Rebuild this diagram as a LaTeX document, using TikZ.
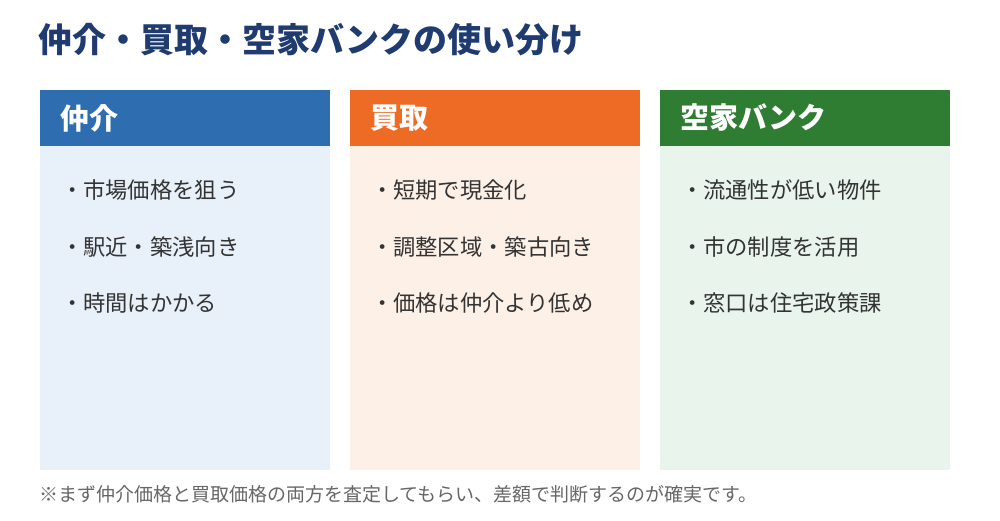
\documentclass[tikz,border=0pt]{standalone}
\usepackage{fontspec}
\setmainfont{Noto Sans CJK JP}
\usetikzlibrary{positioning}
\definecolor{cTitle}{HTML}{1F3B70}
\definecolor{cText}{HTML}{333333}
\definecolor{cNote}{HTML}{666666}
\definecolor{cBlueHead}{HTML}{2E6DB0}
\definecolor{cBlueBody}{HTML}{E8F0FA}
\definecolor{cOrangeHead}{HTML}{EE6B26}
\definecolor{cOrangeBody}{HTML}{FDF0E7}
\definecolor{cGreenHead}{HTML}{2E7D32}
\definecolor{cGreenBody}{HTML}{E9F5EC}

\begin{document}
\begin{tikzpicture}[
  x=1pt, y=-1pt,
  every node/.style={inner sep=0pt, outer sep=0pt},
  head/.style={anchor=north west, minimum width=290pt, minimum height=56pt},
  panel/.style={anchor=north west, minimum width=290pt, minimum height=324pt},
  headtext/.style={anchor=west, text=white, font=\fontsize{29}{33}\selectfont\bfseries},
  item/.style={anchor=west, text=cText, font=\fontsize{22.3}{26}\selectfont},
]

\fill[white] (0,0) rectangle (1000,520);
\node[anchor=west, text=cTitle, font=\fontsize{34}{38}\selectfont\bfseries] (title) at (38,40) {仲介・買取・空家バンクの使い分け};

% 仲介
\node[panel, fill=cBlueBody] (bodyA) at (40,146) {};
\node[head, fill=cBlueHead] (headA) at (40,90) {};
\node[headtext] (nameA) at ([xshift=20pt]headA.west) {仲介};
\node[item] (a1) at (61,190) {・市場価格を狙う};
\node[item] (a2) at (61,247) {・駅近・築浅向き};
\node[item] (a3) at (61,303) {・時間はかかる};

% 買取
\node[panel, fill=cOrangeBody] (bodyB) at (350,146) {};
\node[head, fill=cOrangeHead] (headB) at (350,90) {};
\node[headtext] (nameB) at ([xshift=20pt]headB.west) {買取};
\node[item] (b1) at (371,190) {・短期で現金化};
\node[item] (b2) at (371,247) {・調整区域・築古向き};
\node[item] (b3) at (371,303) {・価格は仲介より低め};

% 空家バンク
\node[panel, fill=cGreenBody] (bodyC) at (660,146) {};
\node[head, fill=cGreenHead] (headC) at (660,90) {};
\node[headtext] (nameC) at ([xshift=20pt]headC.west) {空家バンク};
\node[item] (c1) at (681,190) {・流通性が低い物件};
\node[item] (c2) at (681,247) {・市の制度を活用};
\node[item] (c3) at (681,303) {・窓口は住宅政策課};

\node[anchor=west, text=cNote, font=\fontsize{19}{23}\selectfont] (note) at (39,494) {※まず仲介価格と買取価格の両方を査定してもらい、差額で判断するのが確実です。};

\end{tikzpicture}
\end{document}
